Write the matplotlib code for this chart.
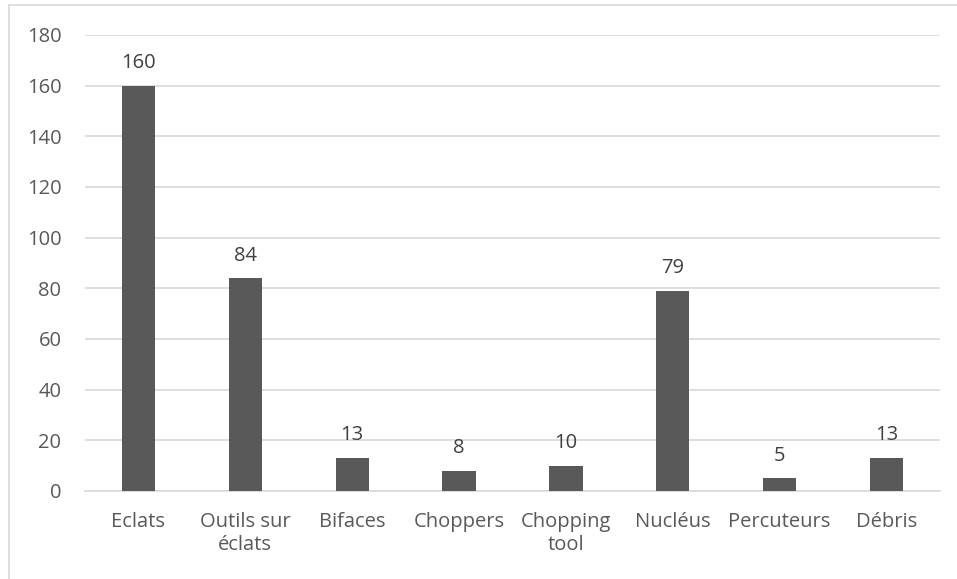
import matplotlib
matplotlib.use("Agg")
import matplotlib.pyplot as plt
from matplotlib.patches import Rectangle

categories = ["Eclats", "Outils sur\néclats", "Bifaces", "Choppers", "Chopping\ntool",
              "Nucléus", "Percuteurs", "Débris"]
values = [160, 84, 13, 8, 10, 79, 5, 13]
yticks = [0, 20, 40, 60, 80, 100, 120, 140, 160, 180]

plt.rcParams['font.family'] = ['Open Sans', 'DejaVu Sans']
txt = '#595959'
fs = 14.5

fig = plt.figure(figsize=(9.57, 5.79), dpi=100)
fig.patches.append(Rectangle((9/957, -0.1), 2.0, 1 - 5/579 + 0.1, transform=fig.transFigure,
                             fill=False, edgecolor='#d9d9d9', linewidth=1.2))
ax = fig.add_axes([85/957, 1 - 491/579, (940 - 85)/957, (491 - 35)/579])

x = range(len(categories))
bars = ax.bar(x, values, width=0.31, color='#595959', zorder=3)
for xi, v in zip(x, values):
    ax.text(xi, v + 5, str(v), ha='center', va='bottom', fontsize=fs, color='#404040')

ax.set_ylim(0, 180)
ax.set_xlim(-0.5, len(categories) - 0.5)
ax.set_yticks(yticks)
ax.set_xticks(list(x))
ax.set_xticklabels(categories, fontsize=fs, color=txt, linespacing=1.2)
ax.tick_params(axis='y', labelsize=fs, labelcolor=txt, length=0, pad=17)
ax.tick_params(axis='x', length=0, pad=15)
ax.grid(axis='y', color='#d9d9d9', linewidth=1.2, zorder=0)
for s in ['top', 'right', 'left']:
    ax.spines[s].set_visible(False)
ax.spines['bottom'].set_color('#d9d9d9')
ax.spines['bottom'].set_linewidth(1.2)

fig.savefig('out.png', dpi=100)
